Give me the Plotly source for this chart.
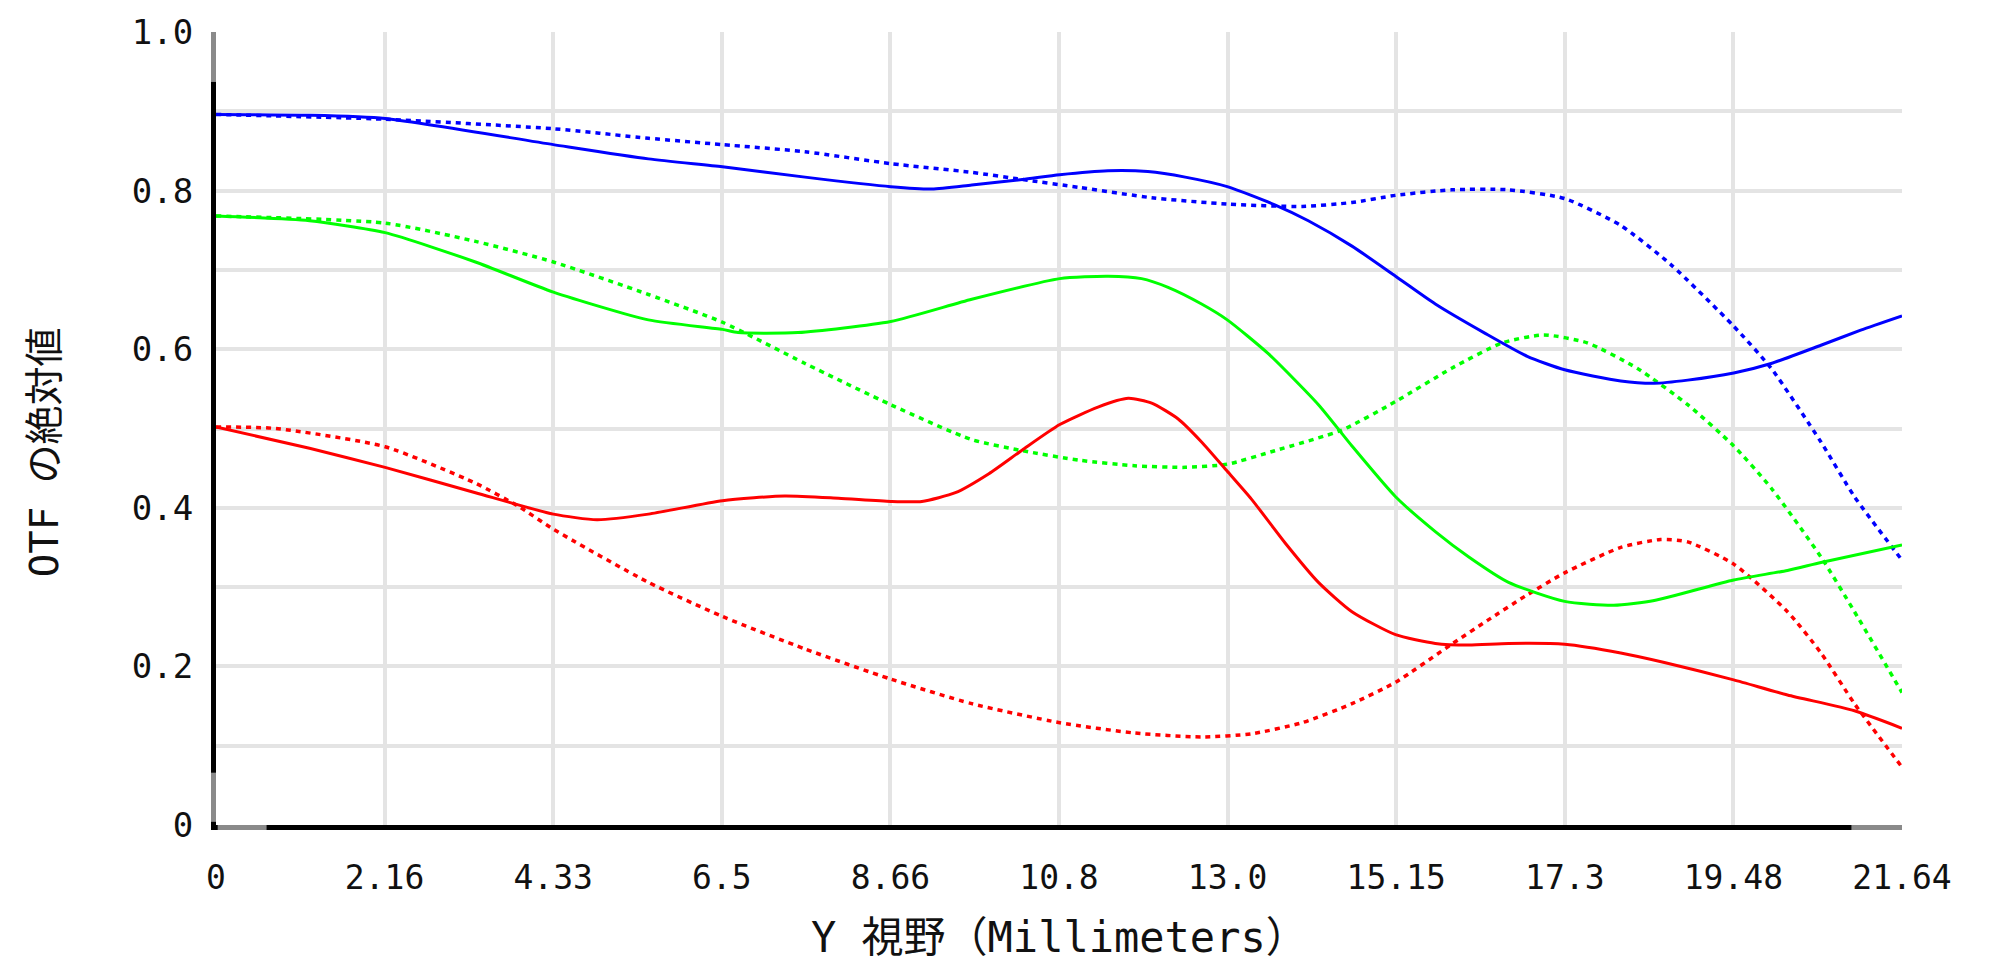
import plotly.graph_objects as go

# ---- data ----
blue_solid_x = [0, 1.2, 2.17, 4.33, 5.55, 6.5, 7.56, 8.66, 9.19, 9.7, 10.35, 10.83, 11.45, 11.96, 12.44, 12.98,
                13.59, 14.02, 14.58, 15.14, 15.65, 16.29, 16.83, 17.31, 18.03, 18.46, 18.89, 19.48, 19.96, 20.6, 21.11, 21.64]
blue_solid_y = [0.896, 0.895, 0.891, 0.858, 0.840, 0.830, 0.817, 0.805, 0.802, 0.807, 0.814, 0.820, 0.825, 0.824, 0.817, 0.805,
                0.782, 0.762, 0.730, 0.692, 0.657, 0.620, 0.591, 0.574, 0.560, 0.557, 0.561, 0.570, 0.582, 0.605, 0.624, 0.642]

blue_dot_x = [0, 2.17, 4.33, 5.55, 6.5, 7.56, 8.66, 9.7, 10.35, 11.08, 12.01, 12.98, 13.94, 14.58, 15.14, 15.86,
              16.59, 17.31, 18.03, 18.67, 19.48, 19.96, 20.6, 21.03, 21.64]
blue_dot_y = [0.896, 0.890, 0.878, 0.866, 0.858, 0.849, 0.834, 0.823, 0.814, 0.804, 0.791, 0.783, 0.780, 0.785, 0.794, 0.801,
              0.801, 0.790, 0.756, 0.707, 0.629, 0.576, 0.483, 0.414, 0.334]

green_solid_x = [0, 1.2, 2.17, 3.33, 4.33, 5.55, 6.5, 6.7, 7.47, 8.66, 9.7, 10.83, 11.45, 11.88, 12.22, 12.65, 12.98,
                 13.51, 14.15, 14.58, 15.14, 15.65, 16.08, 16.59, 17.31, 17.94, 18.46, 19.48, 20.17, 20.6, 21.64]
green_solid_y = [0.768, 0.762, 0.747, 0.710, 0.672, 0.637, 0.625, 0.621, 0.621, 0.635, 0.663, 0.689, 0.692, 0.689, 0.678, 0.657, 0.637,
                 0.594, 0.530, 0.478, 0.414, 0.370, 0.338, 0.306, 0.282, 0.277, 0.283, 0.309, 0.321, 0.331, 0.353]

green_dot_x = [0, 2.17, 3.33, 4.33, 5.55, 6.5, 7.56, 8.66, 9.7, 10.35, 11.08, 11.79, 12.44, 12.98, 13.59, 14.45, 15.14,
               15.86, 16.51, 17.04, 17.6, 18.24, 18.89, 19.48, 19.96, 20.6, 21.03, 21.64]
green_dot_y = [0.768, 0.759, 0.736, 0.710, 0.669, 0.634, 0.582, 0.530, 0.486, 0.472, 0.460, 0.453, 0.451, 0.455, 0.472, 0.498, 0.534,
               0.576, 0.608, 0.618, 0.608, 0.576, 0.530, 0.478, 0.425, 0.338, 0.269, 0.167]

red_solid_x = [0, 1.2, 2.17, 3.33, 4.33, 4.89, 5.55, 6.5, 7.3, 7.99, 8.66, 9.06, 9.49, 9.92, 10.35, 10.83, 11.32, 11.71,
               12.01, 12.35, 12.65, 12.98, 13.29, 13.72, 14.15, 14.58, 15.14, 15.65, 16.08, 16.59, 17.31, 18.03, 18.59,
               19.48, 20.17, 21.03, 21.64]
red_solid_y = [0.502, 0.475, 0.451, 0.419, 0.392, 0.385, 0.392, 0.409, 0.415, 0.412, 0.408, 0.408, 0.419, 0.443, 0.473, 0.505, 0.527, 0.538,
               0.532, 0.512, 0.483, 0.446, 0.411, 0.356, 0.306, 0.269, 0.240, 0.229, 0.227, 0.229, 0.228, 0.217, 0.205,
               0.183, 0.164, 0.144, 0.122]

red_dot_x = [0, 0.77, 2.17, 3.33, 3.88, 4.33, 5.55, 6.5, 7.56, 8.66, 9.7, 10.83, 11.79, 12.65, 13.29, 13.94, 14.58, 15.14,
             15.86, 16.32, 16.81, 17.31, 18.03, 18.54, 18.89, 19.48, 20.17, 20.6, 21.03, 21.64]
red_dot_y = [0.502, 0.500, 0.477, 0.431, 0.402, 0.373, 0.306, 0.263, 0.222, 0.184, 0.153, 0.129, 0.116, 0.111, 0.115, 0.129, 0.153, 0.180,
             0.228, 0.258, 0.289, 0.318, 0.350, 0.360, 0.357, 0.329, 0.269, 0.217, 0.153, 0.073]

x_tick_vals = [0, 2.164, 4.328, 6.492, 8.656, 10.82, 12.984, 15.148, 17.312, 19.476, 21.64]
x_tick_text = ["0", "2.16", "4.33", "6.5", "8.66", "10.8", "13.0", "15.15", "17.3", "19.48", "21.64"]
y_tick_vals = [0, 0.1, 0.2, 0.3, 0.4, 0.5, 0.6, 0.7, 0.8, 0.9, 1.0]
y_tick_text = ["0", "", "0.2", "", "0.4", "", "0.6", "", "0.8", "", "1.0"]

x_title = "Y 視野（Millimeters）"
y_title = "OTF の絶対値"

FONT = "DejaVu Sans Mono, Noto Sans CJK JP, monospace"

fig = go.Figure()
series = [
    (blue_dot_x, blue_dot_y, "#0000FF", True),
    (green_dot_x, green_dot_y, "#00FF00", True),
    (red_dot_x, red_dot_y, "#FF0000", True),
    (blue_solid_x, blue_solid_y, "#0000FF", False),
    (green_solid_x, green_solid_y, "#00FF00", False),
    (red_solid_x, red_solid_y, "#FF0000", False),
]
for xs, ys, col, dotted in series:
    fig.add_trace(go.Scatter(
        x=xs, y=ys, mode="lines",
        line=dict(color=col, width=3.5 if dotted else 3, dash="5px,5px" if dotted else "solid",
                  shape="spline", smoothing=0.6),
        showlegend=False, hoverinfo="skip"))

fig.update_layout(
    width=1993, height=968,
    margin=dict(l=216, r=91, t=30, b=143),
    paper_bgcolor="white", plot_bgcolor="white",
    font=dict(family=FONT, color="black"),
)
fig.update_xaxes(
    range=[0, 21.64], tickvals=x_tick_vals, ticktext=x_tick_text,
    showgrid=True, gridcolor="#e4e4e4", gridwidth=4, zeroline=False,
    showline=True, linecolor="black", linewidth=5,
    ticks="outside", ticklen=5, tickwidth=1.5, tickcolor="white",
    tickfont=dict(family=FONT, size=33, color="#111"), ticklabelstandoff=14,
)
fig.update_yaxes(
    range=[0, 1.0], tickvals=y_tick_vals, ticktext=y_tick_text,
    showgrid=True, gridcolor="#e4e4e4", gridwidth=4, zeroline=False,
    showline=True, linecolor="black", linewidth=5,
    ticks="outside", ticklen=5, tickwidth=1.5, tickcolor="white",
    tickfont=dict(family=FONT, size=34, color="#111"), ticklabelstandoff=6,
)

# grey end segments of the axis lines
grey = "#8a8a8a"
shapes = [
    dict(type="rect", xref="paper", yref="paper", xsizemode="pixel", xanchor=0, x0=-5, x1=0,
         y0=0.937, y1=1.0, fillcolor=grey, line_width=0, layer="above"),
    dict(type="rect", xref="paper", yref="paper", xsizemode="pixel", xanchor=0, x0=-5, x1=0,
         y0=0.004, y1=0.066, fillcolor=grey, line_width=0, layer="above"),
    dict(type="rect", xref="paper", yref="paper", ysizemode="pixel", yanchor=0, y0=-5, y1=0,
         x0=0.001, x1=0.03, fillcolor=grey, line_width=0, layer="above"),
    dict(type="rect", xref="paper", yref="paper", ysizemode="pixel", yanchor=0, y0=-5, y1=0,
         x0=0.97, x1=1.0, fillcolor=grey, line_width=0, layer="above"),
]
fig.update_layout(shapes=shapes)

fig.add_annotation(text=x_title, xref="paper", yref="paper", x=0.5, y=-0.142, yanchor="middle",
                   showarrow=False, font=dict(family=FONT, size=42, color="#111"))
fig.add_annotation(text=y_title, xref="paper", yref="paper", x=-0.102, y=0.47, xanchor="center",
                   yanchor="middle", textangle=-90,
                   showarrow=False, font=dict(family=FONT, size=39, color="#111"))

fig.write_html("out.html")
